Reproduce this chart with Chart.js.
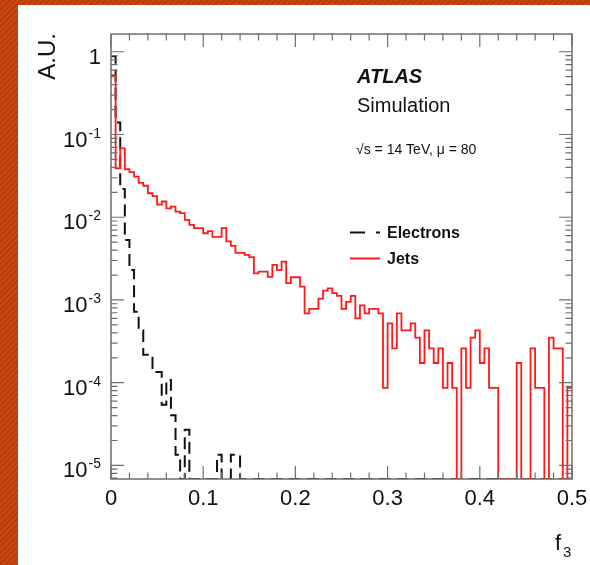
<!DOCTYPE html>
<html>
<head>
<meta charset="utf-8">
<script src="https://cdn.jsdelivr.net/npm/chart.js@4.4.0/dist/chart.umd.min.js"></script>
<style>
  html, body { margin: 0; padding: 0; }
  body {
    width: 590px; height: 565px; overflow: hidden; position: relative;
    background: repeating-linear-gradient(135deg, #c9460f 0px, #c9460f 2px, #b83c0a 2px, #b83c0a 4px);
  }
  #panel { position: absolute; left: 18px; top: 5px; width: 572px; height: 560px; background: #fff; }
  #c { position: absolute; left: 0; top: 0; }
</style>
</head>
<body>
<div id="panel"></div>
<canvas id="c" width="590" height="565"></canvas>
<script>
// histogram binning: 100 bins of 0.005 from 0 to 0.5
const binWidth = 0.005;
const xMin = 0, xMax = 0.5;
const yMin = 6.85e-6, yMax = 1.64;
const xTickValues = [0, 0.1, 0.2, 0.3, 0.4, 0.5];
const xTickLabels = ["0", "0.1", "0.2", "0.3", "0.4", "0.5"];
const yDecades = [0, -1, -2, -3, -4, -5];

// Jets (red), one value per bin, 0 = empty bin
const jets = [
  0.52, 0.039, 0.068, 0.038, 0.035, 0.031, 0.026, 0.024, 0.0195, 0.018,
  0.0142, 0.0155, 0.0128, 0.0134, 0.0117, 0.0112, 0.0093, 0.0081, 0.0074, 0.0074,
  0.0064, 0.0068, 0.0058, 0.0058, 0.0074, 0.0051, 0.0045, 0.0037, 0.0037, 0.0035,
  0.0033, 0.0021, 0.0022, 0.0022, 0.0019, 0.00265, 0.0023, 0.0029, 0.0016, 0.00188,
  0.00188, 0.00145, 0.00069, 0.00078, 0.00078, 0.00104, 0.0013, 0.00138, 0.00121, 0.00112,
  0.00078, 0.00095, 0.00112, 0.0006, 0.00086, 0.00069, 0.00078, 0.00078, 0.00069, 0.0000863,
  0.00052, 0.00026, 0.00069, 0.00043, 0.00043, 0.00052, 0.00035, 0.000173, 0.00043, 0.00026,
  0.000173, 0.00026, 0.0000863, 0.000173, 0.0000863, 0, 0.00026, 0.0000863, 0.00035, 0.00043,
  0.000173, 0.00026, 0.0000863, 0.0000863, 0, 0, 0, 0, 0.000173, 0,
  0, 0.00026, 0.0000863, 0.0000863, 0, 0.00035, 0.00026, 0.00026, 0, 0.0000863
];

// Electrons (black dashed)
const electrons = [
  0.88, 0.14, 0.022, 0.0053, 0.0023, 0.00072, 0.00043, 0.000217, 0.0002, 0.000135,
  0.000135, 0.000054, 0.000108, 0.0000405, 0.0000135, 0, 0.000027, 0, 0, 0,
  0, 0, 0, 0.0000135, 0, 0, 0.0000135, 0.0000135, 0, 0,
  0, 0, 0, 0, 0, 0, 0, 0, 0, 0,
  0, 0, 0, 0, 0, 0, 0, 0, 0, 0,
  0, 0, 0, 0, 0, 0, 0, 0, 0, 0,
  0, 0, 0, 0, 0, 0, 0, 0, 0, 0,
  0, 0, 0, 0, 0, 0, 0, 0, 0, 0,
  0, 0, 0, 0, 0, 0, 0, 0, 0, 0,
  0, 0, 0, 0, 0, 0, 0, 0, 0, 0
];

function histPoints(values) {
  // empty bins are drawn on the frame bottom, like ROOT does
  let pts = values.map((v, i) => ({ x: i * binWidth, y: Math.max(v, yMin) }));
  pts.push({ x: xMax, y: Math.max(values[values.length - 1], yMin) });
  return pts;
}

const FONT = '"Liberation Sans", Arial, Helvetica, sans-serif';
const AXIS = '#6e6e6e';

const frame = {
  id: 'frame',
  afterDatasetsDraw(chart) {
    const ctx = chart.ctx;
    const a = chart.chartArea;
    const x = chart.scales.x, y = chart.scales.y;
    ctx.save();
    ctx.strokeStyle = AXIS;
    ctx.lineWidth = 1.5;
    ctx.strokeRect(a.left, a.top, a.right - a.left, a.bottom - a.top);

    ctx.lineWidth = 1.2;
    ctx.beginPath();
    // x ticks, bottom and top
    for (let i = 0; i <= 25; i++) {
      const px = x.getPixelForValue(i * 0.02);
      const len = (i % 5 === 0) ? 13 : 6.5;
      ctx.moveTo(px, a.bottom); ctx.lineTo(px, a.bottom - len);
      ctx.moveTo(px, a.top); ctx.lineTo(px, a.top + len);
    }
    // y ticks, left and right
    for (let d = -6; d <= 0; d++) {
      for (let m = 1; m <= 9; m++) {
        const v = m * Math.pow(10, d);
        if (v < yMin || v > yMax) continue;
        const py = y.getPixelForValue(v);
        const len = (m === 1) ? 13 : 6.5;
        ctx.moveTo(a.left, py); ctx.lineTo(a.left + len, py);
        ctx.moveTo(a.right, py); ctx.lineTo(a.right - len, py);
      }
    }
    ctx.stroke();

    // x tick labels
    ctx.fillStyle = '#111';
    ctx.font = '22px ' + FONT;
    ctx.textAlign = 'center';
    ctx.textBaseline = 'alphabetic';
    xTickValues.forEach((v, i) => {
      ctx.fillText(xTickLabels[i], x.getPixelForValue(v), a.bottom + 26);
    });

    // y tick labels: 1, 10^-1 ...
    yDecades.forEach(d => {
      const py = y.getPixelForValue(Math.pow(10, d));
      const right = 101;
      if (d === 0) {
        ctx.font = '22px ' + FONT;
        ctx.textAlign = 'right';
        ctx.fillText('1', right, py + 12);
      } else {
        ctx.font = '14px ' + FONT;
        ctx.textAlign = 'right';
        const sup = String(d);
        ctx.fillText(sup, right, py + 3);
        const w = ctx.measureText(sup).width;
        ctx.font = '22px ' + FONT;
        ctx.fillText('10', right - w - 1, py + 12);
      }
    });

    // axis titles
    ctx.save();
    ctx.translate(55, 33);
    ctx.rotate(-Math.PI / 2);
    ctx.font = '24px ' + FONT;
    ctx.textAlign = 'right';
    ctx.fillText('A.U.', 0, 0);
    ctx.restore();

    ctx.textAlign = 'left';
    ctx.font = '22px ' + FONT;
    ctx.fillText('f', 555, 550);
    ctx.font = '15px ' + FONT;
    ctx.fillText('3', 563, 557);

    // labels
    ctx.font = 'italic bold 20px ' + FONT;
    ctx.fillText('ATLAS', 357, 83);
    ctx.font = '20px ' + FONT;
    ctx.fillText('Simulation', 357, 112);
    ctx.font = '14px ' + FONT;
    ctx.fillText('\u221As = 14 TeV, \u03BC = 80', 356, 154);

    // legend
    ctx.lineWidth = 2;
    ctx.strokeStyle = '#111';
    ctx.setLineDash([15, 11]);
    ctx.beginPath(); ctx.moveTo(350, 232.5); ctx.lineTo(380, 232.5); ctx.stroke();
    ctx.setLineDash([]);
    ctx.strokeStyle = '#ff1a1a';
    ctx.beginPath(); ctx.moveTo(350, 258.5); ctx.lineTo(380, 258.5); ctx.stroke();
    ctx.font = 'bold 16px ' + FONT;
    ctx.fillText('Electrons', 387, 238);
    ctx.fillText('Jets', 387, 264);
    ctx.restore();
  }
};

new Chart(document.getElementById('c'), {
  type: 'line',
  data: {
    datasets: [
      {
        label: 'Jets',
        data: histPoints(jets),
        borderColor: '#ff1a1a',
        borderWidth: 1.8,
        stepped: true,
        pointRadius: 0,
        fill: false
      },
      {
        label: 'Electrons',
        data: histPoints(electrons),
        borderColor: '#111',
        borderWidth: 2,
        borderDash: [12, 6],
        stepped: true,
        pointRadius: 0,
        fill: false
      }
    ]
  },
  options: {
    responsive: false,
    animation: false,
    layout: { padding: { left: 111, top: 34, right: 18, bottom: 86 } },
    plugins: { legend: { display: false }, tooltip: { enabled: false } },
    scales: {
      x: { type: 'linear', min: xMin, max: xMax, display: false },
      y: { type: 'logarithmic', min: yMin, max: yMax, display: false }
    }
  },
  plugins: [frame]
});
</script>
</body>
</html>
